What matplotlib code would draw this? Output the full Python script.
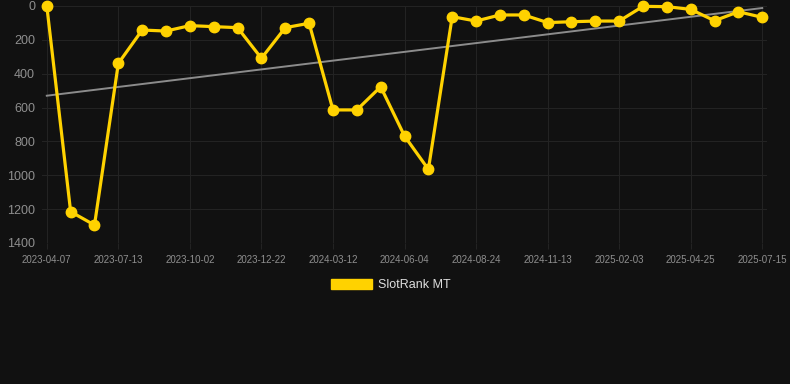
import matplotlib

matplotlib.use("Agg")

import matplotlib.pyplot as plt  # noqa: E402
from matplotlib.patches import Patch  # noqa: E402

plt.rcParams["font.family"] = ["Liberation Sans", "DejaVu Sans"]

# SlotRank MT series, one point per sample (evenly spaced on a category axis)
ranks = [
    0, 1215, 1294, 339, 142, 148, 116, 122, 128, 309,
    128, 102, 614, 614, 477, 768, 965, 63, 89, 53,
    53, 98, 93, 89, 89, 2, 4, 20, 87, 34, 67,
]
# labelled every third sample
tick_labels = [
    "2023-04-07", "2023-07-13", "2023-10-02", "2023-12-22", "2024-03-12",
    "2024-06-04", "2024-08-24", "2024-11-13", "2025-02-03", "2025-04-25",
    "2025-07-15",
]
trend_ends = [530, 12]

BG = "#111111"
GOLD = "#ffd200"
GRID = "#232323"
TICK = "#8f8f8f"

fig = plt.figure(figsize=(7.9, 3.84), dpi=100, facecolor=BG)
ax = fig.add_axes([0.0532, 0.3672, 0.9177, 0.6172], facecolor=BG)

xs = list(range(len(ranks)))
ax.plot([xs[0], xs[-1]], trend_ends, color="#8c8c8c", linewidth=1.4, zorder=2)
ax.plot(xs, ranks, color=GOLD, linewidth=2.3, marker="o", markersize=7.5,
        markerfacecolor=GOLD, markeredgecolor=GOLD, zorder=3, clip_on=False)

ax.set_xlim(-0.2, len(ranks) - 1 + 0.2)
ax.set_ylim(1400, 0)
ax.set_yticks(range(0, 1401, 200))
ax.set_xticks(xs[::3])
ax.set_xticklabels(tick_labels)

for s in ax.spines.values():
    s.set_visible(False)
ax.grid(True, color=GRID, linewidth=0.8)
ax.set_axisbelow(True)
ax.tick_params(axis="y", length=0, pad=5, labelsize=9, labelcolor=TICK)
ax.tick_params(axis="x", length=4, color=GRID, pad=5, labelsize=7,
               labelcolor=TICK)

handle = Patch(facecolor=GOLD, edgecolor=GOLD)
fig.legend([handle], ["SlotRank MT"], loc="center", bbox_to_anchor=(0.495, 0.258),
           frameon=False, fontsize=9, labelcolor="#dddddd",
           handlelength=3.3, handleheight=0.9, handletextpad=0.5)

fig.savefig("out.png", dpi=100, facecolor=BG)
plt.close(fig)
